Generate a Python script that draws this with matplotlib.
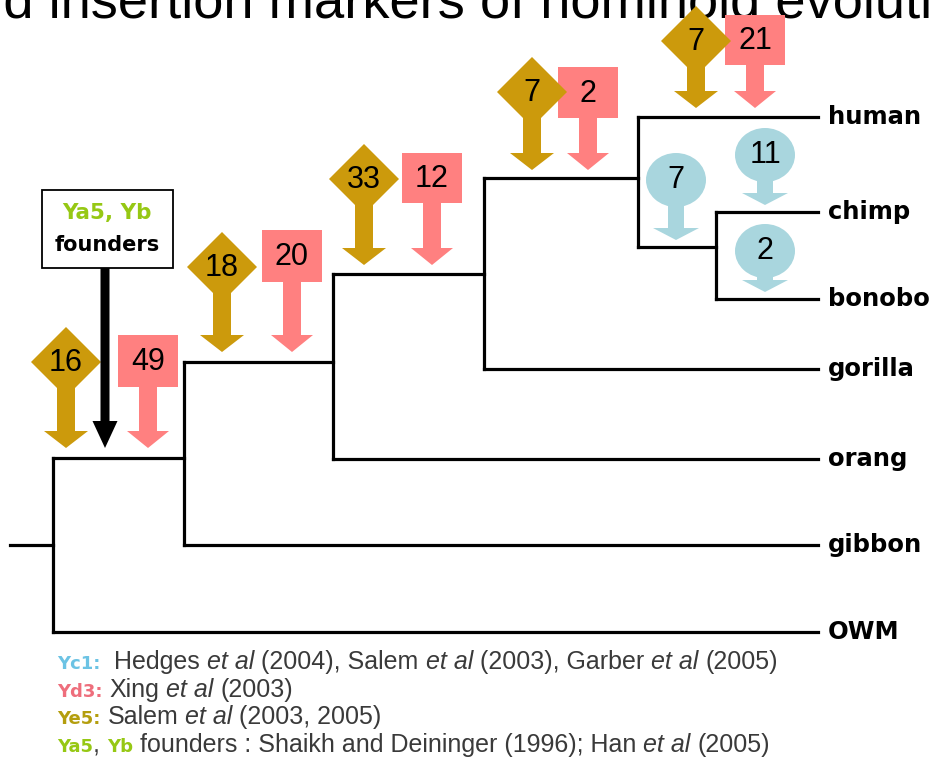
import matplotlib
matplotlib.use("Agg")
import matplotlib.pyplot as plt
from matplotlib.patches import Polygon, Rectangle, Ellipse

# ---------------- data ----------------
taxa = ["human", "chimp", "bonobo", "gorilla", "orang", "gibbon", "OWM"]
ye5_counts = [16, 18, 33, 7, 7]      # gold diamonds
yd3_counts = [49, 20, 12, 2, 21]     # pink squares
yc1_counts = [7, 11, 2]              # blue balloons
founder_lines = ["Ya5, Yb", "founders"]
title_text = "and insertion markers of hominoid evolution"
legend_keys = ["Yc1:", "Yd3:", "Ye5:", "Ya5, Yb"]
legend_refs = [
    "  Hedges |et al| (2004), Salem |et al| (2003), Garber |et al| (2005)",
    " Xing |et al| (2003)",
    " Salem |et al| (2003, 2005)",
    " founders : Shaikh and Deininger (1996); Han |et al| (2005)",
]

# ---------------- layout / style ----------------
W, H = 934, 762
GOLD = "#CC9A0C"
PINK = "#FF8080"
BLUE = "#A9D6DE"
KEY_COLORS = ["#6CC3E4", "#EE6E7C", "#B49E0E", "#96C814"]

fig = plt.figure(figsize=(W / 100, H / 100), dpi=100)
ax = fig.add_axes([0, 0, 1, 1])
ax.set_xlim(0, W)
ax.set_ylim(H, 0)
ax.axis("off")
renderer = fig.canvas.get_renderer()

# tree geometry
tip_x = 818
leaf_y = {"human": 117, "chimp": 212, "bonobo": 299, "gorilla": 369,
          "orang": 459, "gibbon": 545, "OWM": 632}
node_x = {"root": 53, "A": 184, "B": 333, "C": 484, "D": 638, "E": 716}
node_y = {"root": 545, "A": 458, "B": 362, "C": 274, "D": 178, "E": 247}
children = {"root": ["A", "OWM"], "A": ["B", "gibbon"], "B": ["C", "orang"],
            "C": ["D", "gorilla"], "D": ["human", "E"], "E": ["chimp", "bonobo"]}
root_stem_x = 10

def pos(n):
    if n in node_x:
        return node_x[n], node_y[n]
    return tip_x, leaf_y[n]

LW = 2.3
for p, kids in children.items():
    px, _ = pos(p)
    ys = [pos(k)[1] for k in kids]
    ax.plot([px, px], [min(ys), max(ys)], color="black", lw=LW,
            solid_capstyle="projecting", zorder=2)
    for k in kids:
        kx, ky = pos(k)
        ax.plot([px, kx], [ky, ky], color="black", lw=LW,
                solid_capstyle="projecting", zorder=2)
ax.plot([root_stem_x, node_x["root"]], [node_y["root"]] * 2, color="black",
        lw=LW, solid_capstyle="projecting", zorder=2)

for t in taxa:
    ax.text(tip_x + 10, leaf_y[t], t, fontsize=17.5, fontweight="bold",
            family="DejaVu Sans", ha="left", va="center", color="black")


def down_arrow(xc, y0, y1, sw, hw, hl):
    return [(xc - sw / 2, y0), (xc + sw / 2, y0), (xc + sw / 2, y1 - hl),
            (xc + hw / 2, y1 - hl), (xc, y1), (xc - hw / 2, y1 - hl),
            (xc - sw / 2, y1 - hl)]

NUMFONT = dict(fontsize=22, family="Liberation Sans", color="black",
               ha="center", va="center")

# pink squares (Yd3)
pink_layout = [(148, 335, 387, 448), (292, 230, 282, 352), (432, 153, 203, 265),
               (588, 67, 118, 170), (755, 15, 65, 108)]
for n, (cx, yt, yb, tip) in zip(yd3_counts, pink_layout):
    ax.add_patch(Polygon(down_arrow(cx, yb - 2, tip, 18, 42, 17), closed=True,
                         fc=PINK, ec="none", zorder=3))
    ax.add_patch(Rectangle((cx - 30, yt), 60, yb - yt, fc=PINK, ec="none", zorder=3))
    ax.text(cx, (yt + yb) / 2 + 1, str(n), zorder=6, **NUMFONT)

# gold diamonds (Ye5)
gold_layout = [(66, 362, 448), (222, 267, 352), (364, 179, 265),
               (532, 92, 170), (696, 41, 108)]
for n, (cx, cy, tip) in zip(ye5_counts, gold_layout):
    ax.add_patch(Polygon(down_arrow(cx, cy, tip, 18, 44, 17), closed=True,
                         fc=GOLD, ec="none", zorder=4))
    ax.add_patch(Polygon([(cx, cy - 35), (cx + 35, cy), (cx, cy + 35), (cx - 35, cy)],
                         closed=True, fc=GOLD, ec="none", zorder=4))
    ax.text(cx, cy + 1, str(n), zorder=6, **NUMFONT)

# blue balloons (Yc1)
blue_layout = [(676, 180, 240), (765, 155, 205), (765, 251, 292)]
for n, (cx, cy, tip) in zip(yc1_counts, blue_layout):
    ax.add_patch(Polygon(down_arrow(cx, cy, tip, 16, 46, 12), closed=True,
                         fc=BLUE, ec="none", zorder=3))
    ax.add_patch(Ellipse((cx, cy), 60, 54, fc=BLUE, ec="none", zorder=3))
    ax.text(cx, cy, str(n), zorder=6, **NUMFONT)

# founders box + black arrow
ax.add_patch(Rectangle((42, 190), 131, 78, fc="white", ec="black", lw=1.3, zorder=5))
ax.text(107, 213, founder_lines[0], fontsize=15.5, fontweight="bold", family="DejaVu Sans",
        color=KEY_COLORS[3], ha="center", va="center", zorder=6)
ax.text(107, 245, founder_lines[1], fontsize=15, fontweight="bold", family="DejaVu Sans",
        color="black", ha="center", va="center", zorder=6)
ax.add_patch(Polygon(down_arrow(105, 268, 448, 9, 25, 27), closed=True,
                     fc="black", ec="none", zorder=5))


def text_width(s, props):
    t = ax.text(0, 0, s, **props)
    w = t.get_window_extent(renderer).width
    t.remove()
    return w


# title (cut off at the top of the picture, as in the reference)
TFONT = dict(fontsize=35, family="Liberation Sans", color="black")
vis = "d insertion markers of hominoid evoluti"
scale = 931 / text_width(vis, TFONT)
TFONT["fontsize"] = 35 * scale
w_an = text_width("an", TFONT)
ax.text(3 - w_an, 17, title_text, ha="left", va="baseline", zorder=1, **TFONT)

# legend lines
LFONT = dict(fontsize=18, family="Liberation Sans", color="#3A3A3A")
KFONT = dict(fontsize=13, family="DejaVu Sans", fontweight="bold")


def put(x, y, s, props):
    lead = len(s) - len(s.lstrip(" "))
    trail = len(s) - len(s.rstrip(" "))
    sp = text_width("a a", props) - text_width("aa", props)
    x += lead * sp
    core = s.strip(" ")
    if core:
        t = ax.text(x, y, core, ha="left", va="baseline", **props)
        x += t.get_window_extent(renderer).width
    return x + trail * sp


legend_y = [669, 697, 724, 752]
for key, ref, col, y in zip(legend_keys, legend_refs, KEY_COLORS, legend_y):
    x = 57
    if key.endswith(", Yb"):
        x = put(x, y, "Ya5", dict(KFONT, color=col))
        x = put(x, y, ", ", dict(LFONT))
        x = put(x, y, "Yb", dict(KFONT, color=col))
    else:
        x = put(x, y, key, dict(KFONT, color=col))
    for i, seg in enumerate(ref.split("|")):
        props = dict(LFONT, style="italic") if i % 2 else dict(LFONT)
        x = put(x, y, seg, props)

fig.savefig("out.png", dpi=100, facecolor="white")
